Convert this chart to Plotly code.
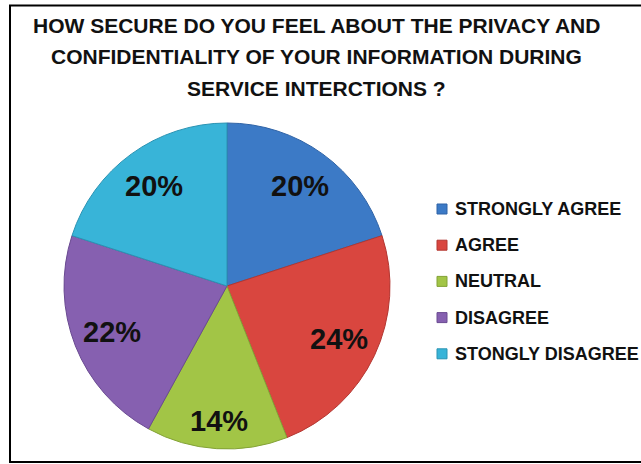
import math
import plotly.graph_objects as go

W, H = 641, 464

# Survey responses
categories = ["STRONGLY AGREE", "AGREE", "NEUTRAL", "DISAGREE", "STONGLY DISAGREE"]
shares = [20, 24, 14, 22, 20]
slice_colors = ["#3C7AC6", "#D9463F", "#A2C546", "#8660B0", "#38B4D8"]
edge_colors = ["#2F63A6", "#B33631", "#83A236", "#6A4A91", "#2A93B3"]

title_lines = [
    "HOW SECURE DO YOU FEEL ABOUT THE PRIVACY AND",
    "CONFIDENTIALITY OF YOUR INFORMATION DURING",
    "SERVICE INTERCTIONS ?",
]

FONT = "Liberation Sans, Arial, sans-serif"

# Pie placement in pixels
CX, CY, R = 227, 286, 163
# Distance of each percentage label from the centre, as a fraction of the radius
label_radius = [0.76, 0.76, 0.83, 0.76, 0.76]

fig = go.Figure()
fig.add_trace(go.Pie(
    labels=categories,
    values=shares,
    sort=False,
    direction="clockwise",
    rotation=0,
    marker=dict(colors=slice_colors, line=dict(color=edge_colors, width=1)),
    textinfo="none",
    showlegend=False,
    domain=dict(x=[(CX - R) / W, (CX + R) / W], y=[(H - CY - R) / H, (H - CY + R) / H]),
    hoverinfo="label+percent",
))


def px(x):
    return x / W


def py(y):
    return 1 - y / H


annotations = []
shapes = []

# Percentage labels at the middle angle of each slice (clockwise from 12 o'clock)
total = sum(shares)
cum = 0
for v, rf in zip(shares, label_radius):
    mid = (cum + v / 2) / total * 2 * math.pi
    cum += v
    lx = CX + rf * R * math.sin(mid)
    ly = CY - rf * R * math.cos(mid)
    annotations.append(dict(
        text=f"{round(100 * v / total)}%", x=px(lx), y=py(ly),
        xref="paper", yref="paper", xanchor="center", yanchor="middle",
        showarrow=False,
        font=dict(family=FONT, size=29, color="#111111", weight="bold"),
    ))

# Title, one annotation per line
for line, y in zip(title_lines, [25, 57, 88]):
    annotations.append(dict(
        text=line, x=px(316), y=py(y), xref="paper", yref="paper",
        xanchor="center", yanchor="middle", showarrow=False,
        font=dict(family=FONT, size=21, color="#111111", weight="bold"),
    ))

# Legend: square swatch plus label for each category
for i, (name, col, edge) in enumerate(zip(categories, slice_colors, edge_colors)):
    yc = 209 + i * 36.2
    shapes.append(dict(
        type="rect", xref="paper", yref="paper",
        x0=px(437), x1=px(447), y0=py(yc + 5), y1=py(yc - 5),
        fillcolor=col, line=dict(color=edge, width=1),
    ))
    annotations.append(dict(
        text=name, x=px(453), y=py(yc), xref="paper", yref="paper",
        xanchor="left", yanchor="middle", showarrow=False,
        font=dict(family=FONT, size=18, color="#111111", weight="bold"),
    ))

# Chart frame
shapes.append(dict(
    type="rect", xref="paper", yref="paper",
    x0=px(10), x1=1.02, y0=py(462), y1=py(5.5),
    line=dict(color="#000000", width=2), fillcolor="rgba(0,0,0,0)",
))

fig.update_layout(
    width=W, height=H,
    margin=dict(l=0, r=0, t=0, b=0),
    paper_bgcolor="#FFFFFF",
    plot_bgcolor="#FFFFFF",
    annotations=annotations,
    shapes=shapes,
)

fig.write_html("out.html")
